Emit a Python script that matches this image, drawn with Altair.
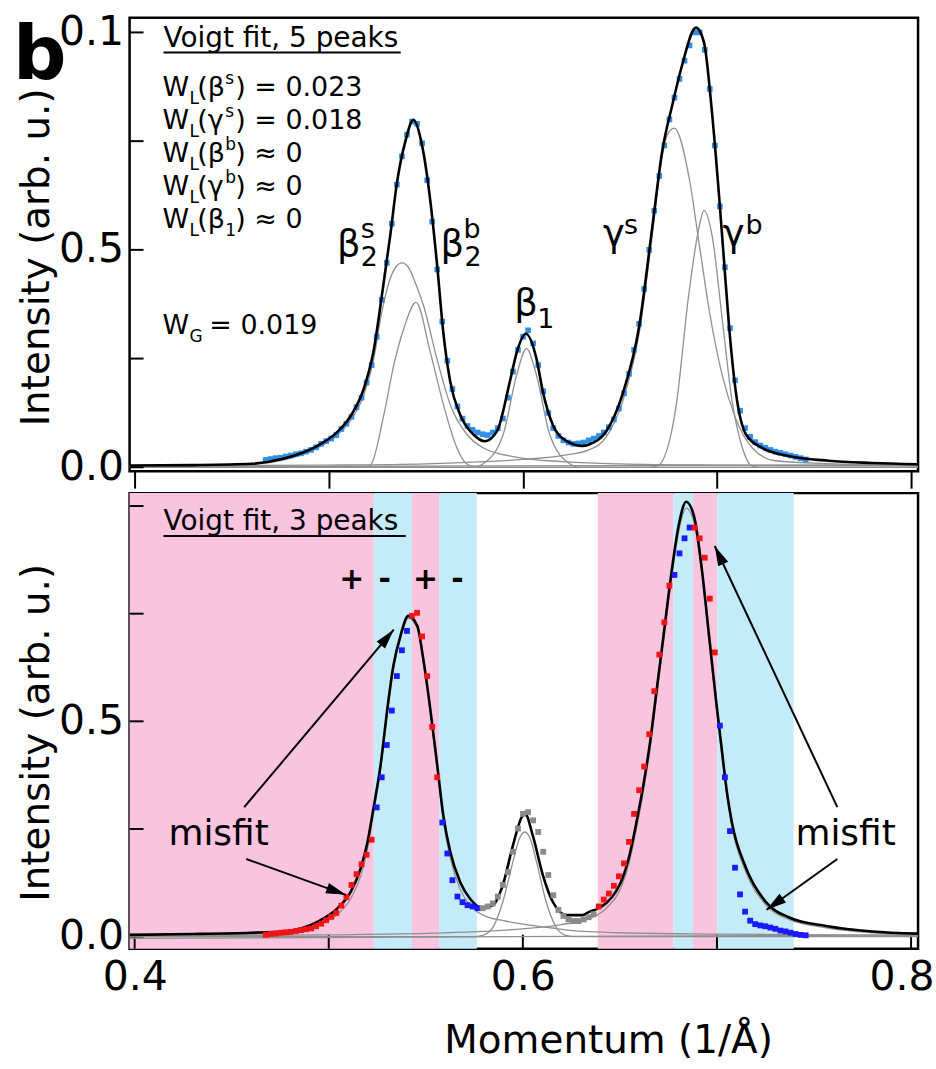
import math
import altair as alt
import pandas as pd

FONT = "DejaVu Sans"

# ------------------------------------------------------------------
# Values
# ------------------------------------------------------------------
momentum = [
    0.4675, 0.4701, 0.4727, 0.4753, 0.4779, 0.4805, 0.4831, 0.4857, 0.4883, 0.4909, 0.4935, 0.4961,
    0.4987, 0.5013, 0.5039, 0.5065, 0.5091, 0.5117, 0.5143, 0.5169, 0.5195, 0.5221, 0.5247, 0.5273,
    0.5299, 0.5325, 0.5351, 0.5377, 0.5403, 0.5429, 0.5455, 0.5481, 0.5507, 0.5533, 0.5559, 0.5585,
    0.5611, 0.5637, 0.5663, 0.5689, 0.5715, 0.5741, 0.5767, 0.5793, 0.5819, 0.5845, 0.5871, 0.5897,
    0.5923, 0.5949, 0.5975, 0.6001, 0.6027, 0.6053, 0.6079, 0.6105, 0.6131, 0.6157, 0.6183, 0.6209,
    0.6235, 0.6261, 0.6287, 0.6313, 0.6339, 0.6365, 0.6391, 0.6417, 0.6443, 0.6469, 0.6495, 0.6521,
    0.6547, 0.6573, 0.6599, 0.6625, 0.6651, 0.6677, 0.6703, 0.6729, 0.6755, 0.6781, 0.6807, 0.6833,
    0.6859, 0.6885, 0.6911, 0.6937, 0.6963, 0.6989, 0.7015, 0.7041, 0.7067, 0.7093, 0.7119, 0.7145,
    0.7171, 0.7197, 0.7223, 0.7249, 0.7275, 0.7301, 0.7327, 0.7353, 0.7379, 0.7405, 0.7431, 0.7457,
]

top_intensity = [
    0.017, 0.019, 0.021, 0.022, 0.025, 0.027, 0.030, 0.032, 0.036, 0.040, 0.046, 0.054,
    0.060, 0.066, 0.074, 0.088, 0.100, 0.116, 0.138, 0.160, 0.195, 0.235, 0.300, 0.385,
    0.470, 0.560, 0.650, 0.715, 0.765, 0.795, 0.790, 0.745, 0.660, 0.565, 0.455, 0.335,
    0.245, 0.180, 0.140, 0.112, 0.095, 0.086, 0.080, 0.076, 0.074, 0.080, 0.090, 0.112,
    0.160, 0.220, 0.270, 0.300, 0.315, 0.285, 0.235, 0.175, 0.125, 0.090, 0.072, 0.062,
    0.057, 0.054, 0.055, 0.057, 0.062, 0.066, 0.072, 0.080, 0.092, 0.110, 0.135, 0.170,
    0.215, 0.270, 0.330, 0.410, 0.500, 0.590, 0.670, 0.740, 0.800, 0.850, 0.893, 0.935,
    0.970, 1.000, 1.000, 0.960, 0.870, 0.740, 0.600, 0.460, 0.320, 0.200, 0.130, 0.090,
    0.070, 0.058, 0.050, 0.045, 0.040, 0.036, 0.033, 0.030, 0.027, 0.024, 0.021, 0.018,
]

bottom_intensity = [
    0.004, 0.006, 0.007, 0.009, 0.010, 0.011, 0.013, 0.015, 0.017, 0.019, 0.024, 0.030,
    0.038, 0.046, 0.055, 0.072, 0.092, 0.120, 0.145, 0.168, 0.190, 0.225, 0.300, 0.370,
    0.445, 0.525, 0.605, 0.665, 0.710, 0.745, 0.752, 0.697, 0.605, 0.487, 0.370, 0.265,
    0.193, 0.131, 0.093, 0.080, 0.073, 0.070, 0.066, 0.066, 0.070, 0.077, 0.093, 0.120,
    0.150, 0.197, 0.251, 0.285, 0.289, 0.270, 0.243, 0.197, 0.143, 0.096, 0.062, 0.048,
    0.040, 0.036, 0.036, 0.040, 0.045, 0.052, 0.070, 0.086, 0.100, 0.118, 0.140, 0.170,
    0.220, 0.285, 0.340, 0.395, 0.470, 0.570, 0.655, 0.730, 0.815, 0.840, 0.890, 0.925,
    0.950, 0.950, 0.925, 0.880, 0.785, 0.660, 0.490, 0.370, 0.245, 0.160, 0.098, 0.058,
    0.037, 0.029, 0.026, 0.024, 0.021, 0.018, 0.014, 0.012, 0.009, 0.006, 0.004, 0.003,
]

# sign of (data - fit) for runs of points in the 3-peak panel ("0" = neutral)
run_start = [0.4675, 0.5247, 0.5429, 0.5585, 0.5793, 0.6391, 0.6781, 0.6885, 0.7015]
run_end = [0.5221, 0.5403, 0.5559, 0.5767, 0.6365, 0.6755, 0.6859, 0.6989, 0.7457]
run_sign = ["+", "-", "+", "-", "0", "+", "-", "+", "-"]

# shaded bands in the 3-peak panel
band_start = [0.3974, 0.5232, 0.5429, 0.5569, 0.6386, 0.6776, 0.6877, 0.7002]
band_end = [0.5232, 0.5429, 0.5569, 0.5763, 0.6776, 0.6877, 0.7002, 0.7395]
band_sign = ["+", "-", "+", "-", "+", "-", "+", "-"]

# 5-peak Voigt fit (total)
top_fit_x = [0.3974, 0.430, 0.460, 0.4769, 0.4944, 0.5046, 0.5113, 0.518, 0.523, 0.528, 0.5318, 0.535,
             0.5395, 0.5436, 0.548, 0.5523, 0.5559, 0.559, 0.5626, 0.5677, 0.5744, 0.5805, 0.5867, 0.5933,
             0.5969, 0.6015, 0.607, 0.6103, 0.6154, 0.6226, 0.6308, 0.6344, 0.643, 0.6513, 0.660, 0.6667,
             0.6718, 0.677, 0.682, 0.6892, 0.6933, 0.6974, 0.701, 0.7036, 0.7062, 0.7097, 0.7149, 0.723,
             0.7369, 0.7574, 0.780, 0.8036]
top_fit_y = [0.004, 0.005, 0.008, 0.020, 0.050, 0.082, 0.118, 0.180, 0.265, 0.415, 0.537, 0.650,
             0.750, 0.799, 0.742, 0.614, 0.462, 0.311, 0.197, 0.121, 0.076, 0.060, 0.083, 0.197,
             0.265, 0.307, 0.250, 0.174, 0.098, 0.060, 0.049, 0.053, 0.083, 0.167, 0.326, 0.553,
             0.727, 0.833, 0.924, 1.011, 0.977, 0.818, 0.629, 0.477, 0.326, 0.174, 0.076, 0.045,
             0.026, 0.015, 0.010, 0.007]

# 5-peak fit components
b2s_x = [0.3974, 0.430, 0.460, 0.477, 0.494, 0.5046, 0.5113, 0.518, 0.523, 0.5275, 0.531, 0.5345, 0.5378,
         0.541, 0.545, 0.5489, 0.5557, 0.5626, 0.5711, 0.5795, 0.597, 0.620, 0.650, 0.700, 0.8036]
b2s_y = [0.003, 0.005, 0.007, 0.017, 0.044, 0.075, 0.108, 0.165, 0.245, 0.360, 0.425, 0.460, 0.470,
         0.460, 0.420, 0.371, 0.250, 0.144, 0.076, 0.045, 0.023, 0.013, 0.008, 0.005, 0.003]
b2b_x = [0.3974, 0.518, 0.5215, 0.5284, 0.5335, 0.5386, 0.545, 0.5523, 0.5591, 0.566, 0.571, 0.576, 0.8036]
b2b_y = [0.0, 0.0, 0.005, 0.121, 0.235, 0.318, 0.379, 0.265, 0.144, 0.045, 0.008, 0.0, 0.0]
b1t_x = [0.3974, 0.575, 0.5796, 0.5899, 0.5968, 0.6019, 0.607, 0.6138, 0.6241, 0.629, 0.8036]
b1t_y = [0.0, 0.0, 0.008, 0.076, 0.212, 0.273, 0.212, 0.076, 0.008, 0.0, 0.0]
gs_x = [0.3974, 0.500, 0.550, 0.580, 0.600, 0.620, 0.634, 0.643, 0.6513, 0.660, 0.6667, 0.6718, 0.6745,
        0.678, 0.6856, 0.6908, 0.6959, 0.7027, 0.7095, 0.7181, 0.7301, 0.760, 0.8036]
gs_y = [0.003, 0.005, 0.008, 0.013, 0.018, 0.027, 0.040, 0.070, 0.150, 0.310, 0.535, 0.715, 0.765,
        0.780, 0.667, 0.515, 0.364, 0.212, 0.114, 0.045, 0.015, 0.008, 0.004]
gb_x = [0.3974, 0.665, 0.6694, 0.6788, 0.6856, 0.6908, 0.6933, 0.6976, 0.7027, 0.7078, 0.713, 0.718, 0.722, 0.8036]
gb_y = [0.0, 0.0, 0.003, 0.136, 0.402, 0.553, 0.591, 0.530, 0.341, 0.152, 0.046, 0.003, 0.0, 0.0]
bgt_x = [0.3974, 0.8036]
bgt_y = [0.001, 0.006]

# 3-peak Voigt fit (total)
bot_fit_x = [0.3974, 0.430, 0.460, 0.4769, 0.4944, 0.5046, 0.5113, 0.5164, 0.520, 0.523, 0.5267, 0.5302,
             0.5333, 0.5369, 0.541, 0.5456, 0.5487, 0.5523, 0.5559, 0.559, 0.5626, 0.5677, 0.5728, 0.5795,
             0.5846, 0.5897, 0.5949, 0.5995, 0.6012, 0.6051, 0.6103, 0.6154, 0.6226, 0.6308, 0.6344, 0.638,
             0.643, 0.648, 0.6513, 0.655, 0.6585, 0.662, 0.6655, 0.669, 0.6725, 0.6764, 0.6805, 0.6841,
             0.6882, 0.6923, 0.6959, 0.6995, 0.7026, 0.7053, 0.7077, 0.7149, 0.7251, 0.7369, 0.757, 0.780,
             0.8036]
bot_fit_y = [0.004, 0.006, 0.009, 0.012, 0.035, 0.066, 0.104, 0.158, 0.220, 0.297, 0.398, 0.529,
             0.629, 0.698, 0.745, 0.722, 0.645, 0.529, 0.398, 0.282, 0.197, 0.127, 0.088, 0.066,
             0.073, 0.120, 0.212, 0.278, 0.285, 0.235, 0.143, 0.081, 0.050, 0.050, 0.058, 0.064,
             0.078, 0.105, 0.135, 0.190, 0.265, 0.350, 0.450, 0.575, 0.700, 0.840, 0.960, 1.010,
             0.976, 0.850, 0.700, 0.550, 0.430, 0.330, 0.265, 0.160, 0.081, 0.045, 0.024, 0.012,
             0.007]

# 3-peak fit components
b2_x = [0.3974, 0.450, 0.4769, 0.4944, 0.5046, 0.5113, 0.5164, 0.520, 0.523, 0.5267, 0.5302, 0.5333,
        0.5369, 0.541, 0.5456, 0.5487, 0.5523, 0.5559, 0.559, 0.5626, 0.5677, 0.5728, 0.5795, 0.590,
        0.600, 0.615, 0.631, 0.650, 0.700, 0.8036]
b2_y = [0.002, 0.005, 0.008, 0.026, 0.052, 0.088, 0.140, 0.205, 0.285, 0.390, 0.522, 0.622,
        0.692, 0.740, 0.716, 0.638, 0.520, 0.388, 0.270, 0.183, 0.110, 0.072, 0.050, 0.037,
        0.029, 0.020, 0.012, 0.009, 0.006, 0.003]
b1b_x = [0.3974, 0.575, 0.580, 0.585, 0.5897, 0.5949, 0.598, 0.601, 0.604, 0.607, 0.612, 0.6174, 0.622, 0.627, 0.8036]
b1b_y = [0.0, 0.0, 0.004, 0.025, 0.081, 0.174, 0.225, 0.243, 0.225, 0.174, 0.081, 0.020, 0.003, 0.0, 0.0]
g_x = [0.3974, 0.500, 0.555, 0.580, 0.600, 0.620, 0.6344, 0.643, 0.6513, 0.655, 0.6585, 0.662, 0.6655,
       0.669, 0.6725, 0.6764, 0.6805, 0.6841, 0.6882, 0.6923, 0.6959, 0.6995, 0.7026, 0.7077, 0.7149,
       0.7251, 0.7369, 0.757, 0.780, 0.8036]
g_y = [0.001, 0.004, 0.008, 0.012, 0.018, 0.028, 0.042, 0.066, 0.122, 0.176, 0.250, 0.335, 0.435,
       0.560, 0.685, 0.825, 0.945, 0.995, 0.962, 0.838, 0.688, 0.538, 0.418, 0.255, 0.150,
       0.074, 0.040, 0.020, 0.009, 0.004]
bgb_x = [0.3974, 0.8036]
bgb_y = [-0.004, 0.004]

x_tick_values = [0.4, 0.5, 0.6, 0.7, 0.8]
y_tick_values = [0.0, 0.25, 0.5, 0.75, 1.0]

for a, b in [(momentum, top_intensity), (momentum, bottom_intensity), (top_fit_x, top_fit_y),
             (bot_fit_x, bot_fit_y), (b2s_x, b2s_y), (b2b_x, b2b_y), (b1t_x, b1t_y), (gs_x, gs_y),
             (gb_x, gb_y), (b2_x, b2_y), (b1b_x, b1b_y), (g_x, g_y)]:
    assert len(a) == len(b), (len(a), len(b))

# ------------------------------------------------------------------
# Styling / layout
# ------------------------------------------------------------------
W = 791
TOP_H = 455
BOT_H = 457
TOP_ORIGIN = (128, 16)
BOT_ORIGIN = (128, 490)

PINK = "#f9c4de"
LBLUE = "#c4ebf8"
RED = "#f01414"
BLUE = "#1a1aff"
PT_GRAY = "#8a8a8a"
TOP_BLUE = "#2f8ee8"
COMP_GRAY = "#8f8f8f"

XS = alt.Scale(domain=[0.3974, 0.8036], nice=False, zero=False)
YS_TOP = alt.Scale(domain=[-0.009, 1.034], nice=False, zero=False)
YS_BOT = alt.Scale(domain=[-0.028, 1.030], nice=False, zero=False)

ax_x_top = alt.Axis(values=x_tick_values, labels=False, ticks=True, tickSize=17, tickWidth=2,
                    tickColor="black", domain=False, grid=False, title=None)
ax_y_top = alt.Axis(values=[0.0, 0.5, 1.0],
                    labelExpr="datum.value == 1 ? '0.1' : format(datum.value, '.1f')",
                    ticks=False, domain=False, grid=False, labelFontSize=41, labelPadding=6,
                    labelColor="black", labelOverlap=False,
                    title="Intensity (arb. u.)", titleFontSize=39, titleFontWeight="normal",
                    titleColor="black", titleX=-73, titleY=240)
ax_x_bot = alt.Axis(values=[0.4, 0.6], format=".1f", ticks=False, domain=False, grid=False,
                    labelFontSize=41, labelPadding=9, labelFlush=False, labelOverlap=False,
                    labelColor="black", title="Momentum (1/Å)", titleFontSize=39,
                    titleFontWeight="normal", titleColor="black", titlePadding=24, titleX=480)
ax_y_bot = alt.Axis(values=[0.0, 0.5], format=".1f", ticks=False, domain=False, grid=False,
                    labelFontSize=41, labelPadding=6, labelColor="black", labelOverlap=False,
                    title="Intensity (arb. u.)", titleFontSize=39, titleFontWeight="normal",
                    titleColor="black", titleX=-73, titleY=240)

X_TOP = alt.X("x:Q", scale=XS, axis=ax_x_top)
Y_TOP = alt.Y("y:Q", scale=YS_TOP, axis=ax_y_top)
X_BOT = alt.X("x:Q", scale=XS, axis=ax_x_bot)
Y_BOT = alt.Y("y:Q", scale=YS_BOT, axis=ax_y_bot)

ONE = pd.DataFrame({"k": [0]})


def curves(named):
    rows = []
    for name, xs, ys in named:
        for i, (xv, yv) in enumerate(zip(xs, ys)):
            rows.append({"x": xv, "y": yv, "comp": name, "o": i})
    return pd.DataFrame(rows)


def piece(s, px, py, size, origin, weight="normal", align="left", baseline="alphabetic"):
    ox, oy = origin
    return alt.Chart(ONE).mark_text(
        text=s, font=FONT, fontSize=size, fontWeight=weight, align=align,
        baseline=baseline, color="black"
    ).encode(x=alt.value(px - ox), y=alt.value(py - oy))


def hline(x1, x2, py, origin, width=2):
    ox, oy = origin
    return alt.Chart(ONE).mark_rule(color="black", strokeWidth=width).encode(
        x=alt.value(x1 - ox), x2=alt.value(x2 - ox), y=alt.value(py - oy), y2=alt.value(py - oy))


ARROW_SHAPE = "M0,0L-0.55,2L0.55,2Z"


def arrow(tail, tip, origin):
    ox, oy = origin
    dx, dy = tip[0] - tail[0], tip[1] - tail[1]
    ang = (math.degrees(math.atan2(dx, -dy)) + 360) % 360
    shaft = alt.Chart(ONE).mark_rule(color="black", strokeWidth=2).encode(
        x=alt.value(tail[0] - ox), y=alt.value(tail[1] - oy),
        x2=alt.value(tip[0] - ox), y2=alt.value(tip[1] - oy))
    head = alt.Chart(ONE).mark_point(shape=ARROW_SHAPE, filled=True, size=400, angle=ang,
                                     color="black", opacity=1, strokeWidth=0).encode(
        x=alt.value(tip[0] - ox), y=alt.value(tip[1] - oy))
    return [shaft, head]


# ------------------------------------------------------------------
# Top panel: Voigt fit, 5 peaks
# ------------------------------------------------------------------
top_comp_df = curves([("b2s", b2s_x, b2s_y), ("b2b", b2b_x, b2b_y), ("b1", b1t_x, b1t_y),
                      ("gs", gs_x, gs_y), ("gb", gb_x, gb_y), ("bg", bgt_x, bgt_y)])
top_fit_df = pd.DataFrame({"x": top_fit_x, "y": top_fit_y})
top_pts_df = pd.DataFrame({"x": momentum, "y": top_intensity})

top_layers = [
    alt.Chart(top_comp_df).mark_line(interpolate="monotone", color=COMP_GRAY, strokeWidth=1.3).encode(
        x=X_TOP, y=Y_TOP, detail="comp:N", order="o:Q"),
    alt.Chart(top_pts_df).mark_square(size=32, color=TOP_BLUE, opacity=1).encode(x=X_TOP, y=Y_TOP),
    alt.Chart(top_fit_df).mark_line(interpolate="monotone", color="black", strokeWidth=2.6).encode(
        x=X_TOP, y=Y_TOP),
    alt.Chart(pd.DataFrame({"y": y_tick_values})).mark_rule(color="black", strokeWidth=2).encode(
        y=Y_TOP, x=alt.value(0), x2=alt.value(14)),
]

TO = TOP_ORIGIN
top_layers.append(piece("b", 11, 78, 75, TO, weight="bold"))
top_layers.append(piece("Voigt fit, 5 peaks", 162, 45, 28, TO))
top_layers.append(hline(162, 400, 51, TO))

rows = [
    (95, "(β", "s", "sup", ") = 0.023"),
    (128, "(γ", "s", "sup", ") = 0.018"),
    (161, "(β", "b", "sup", ") ≈ 0"),
    (194, "(γ", "b", "sup", ") ≈ 0"),
    (227, "(β", "1", "sub", ") ≈  0"),
]
for base, open_s, mark_s, kind, rest in rows:
    top_layers.append(piece("W", 161, base, 27, TO))
    top_layers.append(piece("L", 188, base + 8, 17, TO))
    top_layers.append(piece(open_s, 196, base, 27, TO))
    top_layers.append(piece(mark_s, 224, base - 12 if kind == "sup" else base + 8, 17, TO))
    top_layers.append(piece(rest, 234, base, 27, TO))
top_layers.append(piece("W", 161, 333, 27, TO))
top_layers.append(piece("G", 188, 341, 17, TO))
top_layers.append(piece("= 0.019", 208, 333, 27, TO))

# peak labels
top_layers += [
    piece("β", 336, 255, 37, TO), piece("s", 360, 237, 27, TO), piece("2", 360, 265, 27, TO),
    piece("β", 440, 255, 37, TO), piece("b", 463, 237, 27, TO), piece("2", 464, 265, 27, TO),
    piece("β", 514, 314, 37, TO), piece("1", 537, 327, 27, TO),
    piece("γ", 603, 245, 37, TO), piece("s", 624, 233, 27, TO),
    piece("γ", 723, 245, 37, TO), piece("b", 746, 233, 27, TO),
]

top = alt.layer(*top_layers).properties(width=W, height=TOP_H)

# ------------------------------------------------------------------
# Bottom panel: Voigt fit, 3 peaks
# ------------------------------------------------------------------


def sign_of(xv):
    for s, e, g in zip(run_start, run_end, run_sign):
        if s - 1e-6 <= xv <= e + 1e-6:
            return g
    return "0"


bot_pts_df = pd.DataFrame({"x": momentum, "y": bottom_intensity,
                           "sign": [sign_of(v) for v in momentum]})
band_df = pd.DataFrame({"x": band_start, "x1": band_end, "sign": band_sign})
bot_comp_df = curves([("b2", b2_x, b2_y), ("b1", b1b_x, b1b_y), ("g", g_x, g_y), ("bg", bgb_x, bgb_y)])
bot_fit_df = pd.DataFrame({"x": bot_fit_x, "y": bot_fit_y})

BO = BOT_ORIGIN
bot_layers = [
    alt.Chart(band_df).mark_rect().encode(
        x=X_BOT, x2="x1:Q", y=alt.value(0), y2=alt.value(BOT_H),
        fill=alt.Fill("sign:N", scale=alt.Scale(domain=["+", "-"], range=[PINK, LBLUE]), legend=None)),
    alt.Chart(pd.DataFrame({"y": y_tick_values})).mark_rule(color="black", strokeWidth=2).encode(
        y=Y_BOT, x=alt.value(0), x2=alt.value(14)),
    alt.Chart(pd.DataFrame({"x": x_tick_values})).mark_rule(color="black", strokeWidth=2).encode(
        x=X_BOT, y=alt.value(BOT_H), y2=alt.value(BOT_H - 14)),
    alt.Chart(bot_comp_df).mark_line(interpolate="monotone", color=COMP_GRAY, strokeWidth=1.3).encode(
        x=X_BOT, y=Y_BOT, detail="comp:N", order="o:Q"),
    alt.Chart(bot_fit_df).mark_line(interpolate="monotone", color="black", strokeWidth=2.6).encode(
        x=X_BOT, y=Y_BOT),
    alt.Chart(bot_pts_df).mark_square(size=34, opacity=1).encode(
        x=X_BOT, y=Y_BOT,
        color=alt.Color("sign:N", scale=alt.Scale(domain=["+", "-", "0"], range=[RED, BLUE, PT_GRAY]),
                        legend=None)),
]
bot_layers.append(piece("Voigt fit, 3 peaks", 162, 527, 28, BO))
bot_layers.append(hline(162, 405, 533, BO))
for s, px in [("+", 351), ("-", 384), ("+", 425), ("-", 457)]:
    bot_layers.append(piece(s, px, 577, 30, BO, weight="bold", align="center", baseline="middle"))
bot_layers.append(piece("misfit", 167, 843, 36, BO))
bot_layers.append(piece("misfit", 796, 843, 36, BO))
bot_layers += arrow((243, 805), (393, 627), BO)
bot_layers += arrow((245, 857), (345, 893), BO)
bot_layers += arrow((838, 805), (715, 543), BO)
bot_layers += arrow((838, 857), (767, 908), BO)
# last x tick label, kept inside the page like the original
bot_layers.append(piece("0.8", 903, 956, 41, BO, align="center", baseline="top"))

bottom = alt.layer(*bot_layers).properties(width=W, height=BOT_H)

chart = alt.vconcat(top, bottom, spacing=0).properties(
    padding={"left": 11, "top": 8, "right": 0, "bottom": 0},
    background="white",
).configure_view(stroke="black", strokeWidth=2.5).configure_axis(labelFont=FONT, titleFont=FONT)

chart.save("out.html", embed_options={"renderer": "svg", "actions": False})
